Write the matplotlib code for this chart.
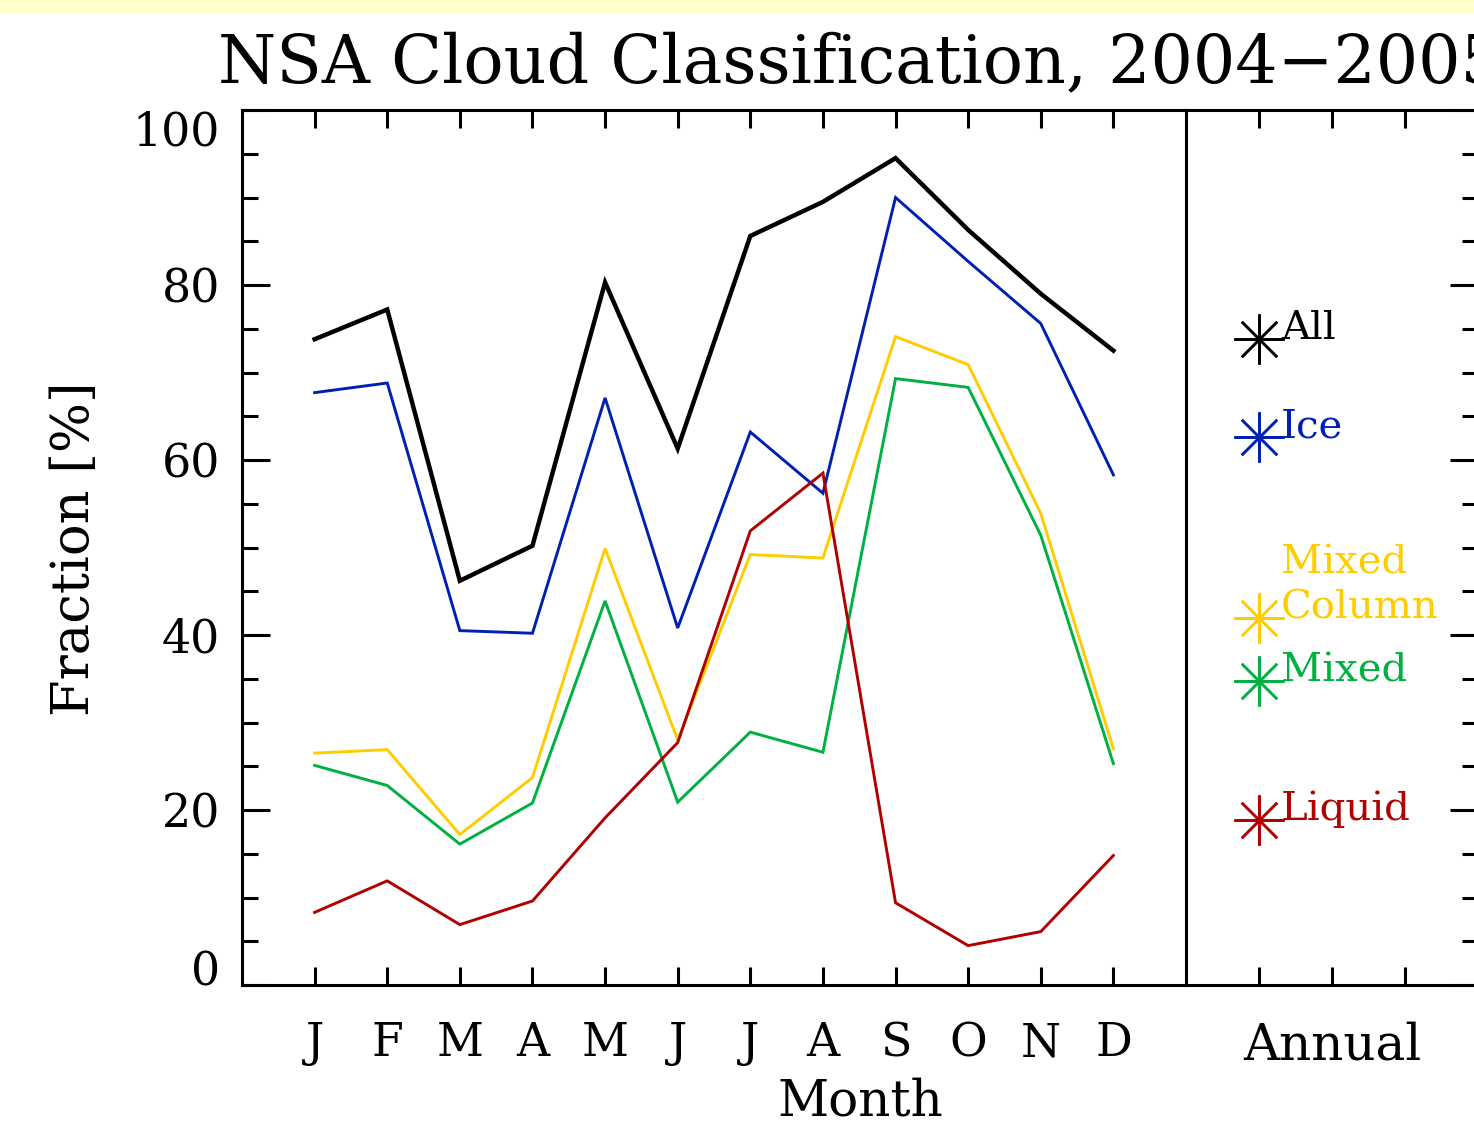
import matplotlib
matplotlib.use('Agg')
import matplotlib.pyplot as plt
from matplotlib.ticker import MultipleLocator

plt.rcParams['font.family'] = 'DejaVu Serif'

# monthly cloud fractions [%], Jan..Dec
months = ['J', 'F', 'M', 'A', 'M', 'J', 'J', 'A', 'S', 'O', 'N', 'D']
frac_all = [73.8, 77.2, 46.2, 50.2, 80.3, 61.3, 85.6, 89.5, 94.5, 86.3, 79.0, 72.5]
frac_ice = [67.7, 68.8, 40.5, 40.2, 67.1, 40.8, 63.2, 56.2, 90.0, 82.7, 75.6, 58.3]
frac_mixcol = [26.5, 26.9, 17.2, 23.7, 49.9, 28.0, 49.2, 48.8, 74.1, 70.9, 53.9, 27.0]
frac_mixed = [25.1, 22.8, 16.1, 20.8, 43.9, 20.9, 28.9, 26.6, 69.3, 68.3, 51.4, 25.3]
frac_liquid = [8.3, 11.9, 6.9, 9.6, 19.1, 27.7, 51.9, 58.5, 9.4, 4.5, 6.1, 14.8]

# annual means
annual_names = ['All', 'Ice', 'Column', 'Mixed', 'Liquid']
annual_vals = [73.8, 62.6, 41.9, 34.7, 18.9]

colors = ['black', '#0020b4', '#ffcc00', '#00b040', '#b00000']
series = [frac_all, frac_ice, frac_mixcol, frac_mixed, frac_liquid]
widths = [3.2, 2.1, 2.1, 2.1, 2.1]

W, H = 1474, 1129
fig = plt.figure(figsize=(W / 100, H / 100), dpi=100)

# thin pale strip along the top edge
fig.patches.append(plt.Rectangle((0, 1 - 12 / H), 1, 12 / H, transform=fig.transFigure,
                                 color='#ffffcc', zorder=0))

ax = fig.add_axes([242 / W, 144 / H, 944 / W, 875 / H])
ax2 = fig.add_axes([1186 / W, 144 / H, 292 / W, 875 / H])

x = list(range(1, 13))
for ys, c, lw in zip(series, colors, widths):
    ax.plot(x, ys, color=c, lw=lw, solid_joinstyle='miter')

ax.set_xlim(0, 13)
ax.set_ylim(0, 100)
ax.set_xticks(x)
ax.set_xticklabels(months)
ax.set_yticks([0, 20, 40, 60, 80, 100])
ax.yaxis.set_minor_locator(MultipleLocator(5))
ax.tick_params(axis='x', direction='in', top=True, bottom=True, length=13, width=2.2,
               pad=26, labelsize=33)
ax.tick_params(axis='y', which='major', direction='in', left=True, right=False,
               length=20, width=2.2, pad=16, labelsize=33)
ax.tick_params(axis='y', which='minor', direction='in', left=True, right=False,
               length=11.5, width=2.2)
for s in ax.spines.values():
    s.set_linewidth(2.2)
ylabels = ax.get_yticklabels()
ylabels[0].set_va('baseline')
ylabels[-1].set_va('top')

# annual panel
ax2.set_xlim(0, 4)
ax2.set_ylim(0, 100)
for v, c, name in zip(annual_vals, colors, annual_names):
    ax2.plot([1], [v], marker=(8, 2, 0), ms=36, mew=1.8, color=c, ls='none')
    ax2.annotate(name, (1, v), xytext=(16, 0), textcoords='offset points',
                 color=c, fontsize=29, va='baseline', ha='left')
ax2.annotate('Mixed', (1, annual_vals[2]), xytext=(16, 32), textcoords='offset points',
             color=colors[2], fontsize=29, va='baseline', ha='left')

ax2.set_xticks([1, 2, 3])
ax2.set_xticklabels(['', 'Annual', ''], fontsize=36)
ax2.set_yticks([0, 20, 40, 60, 80, 100])
ax2.yaxis.set_minor_locator(MultipleLocator(5))
ax2.tick_params(axis='x', direction='in', top=True, bottom=True, length=13, width=2.2,
                pad=26)
ax2.tick_params(axis='y', which='major', direction='in', left=False, right=True,
                labelleft=False, length=20, width=2.2)
ax2.tick_params(axis='y', which='minor', direction='in', left=False, right=True,
                length=11.5, width=2.2)
for s in ax2.spines.values():
    s.set_linewidth(2.2)

fig.text(860 / W, 1 - 82 / H, 'NSA Cloud Classification, 2004\u22122005',
         ha='center', va='baseline', fontsize=48)
fig.text(860 / W, 1 - 1116 / H, 'Month', ha='center', va='baseline', fontsize=36)
fig.text(75 / W, 1 - 549 / H, 'Fraction [%]', ha='center', va='center',
         rotation=90, fontsize=38)

fig.savefig('out.png', dpi=100)
